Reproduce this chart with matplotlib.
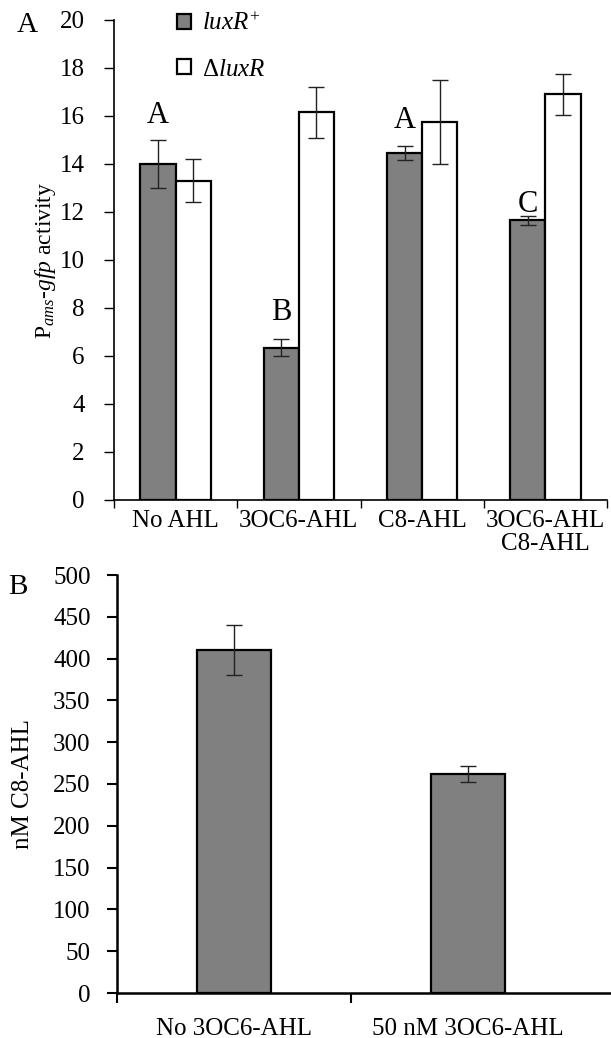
import matplotlib
matplotlib.use("Agg")
import matplotlib.pyplot as plt
import numpy as np

plt.rcParams["font.family"] = ["Liberation Serif", "DejaVu Serif"]
plt.rcParams["mathtext.fontset"] = "custom"
plt.rcParams["mathtext.rm"] = "Liberation Serif"
plt.rcParams["mathtext.it"] = "Liberation Serif:italic"

# Panel A data
conditions_a = ["No AHL", "3OC6-AHL", "C8-AHL", "3OC6-AHL\nC8-AHL"]
luxr_plus = [14.0, 6.35, 14.45, 11.65]
luxr_plus_err = [1.0, 0.35, 0.3, 0.2]
delta_luxr = [13.3, 16.15, 15.75, 16.9]
delta_luxr_err = [0.9, 1.05, 1.75, 0.85]
sig_letters = ["A", "B", "A", "C"]
sig_heights = [15.7, 7.5, 15.5, 12.0]

# Panel B data
conditions_b = ["No 3OC6-AHL", "50 nM 3OC6-AHL"]
c8_nm = [410, 262]
c8_nm_err = [30, 10]

GRAY = "#808080"
FS = 18
W, H = 611, 1038
fig = plt.figure(figsize=(W / 100, H / 100), dpi=100)

# ---- Panel A ----
ax = fig.add_axes([114 / W, 1 - 500 / H, (607 - 114) / W, 480 / H])
x = np.arange(len(conditions_a))
bw = 0.285
ekw = dict(ecolor="#222222", elinewidth=1, capsize=6, capthick=1)
b1 = ax.bar(x - bw / 2, luxr_plus, bw, color=GRAY, edgecolor="black", linewidth=1.6,
            yerr=luxr_plus_err, error_kw=ekw, label=r"$luxR^{+}$", zorder=2)
b2 = ax.bar(x + bw / 2, delta_luxr, bw, color="white", edgecolor="black", linewidth=1.6,
            yerr=delta_luxr_err, error_kw=ekw, label=r"$\mathrm{\Delta}luxR$", zorder=2)
for xi, letter, h in zip(x, sig_letters, sig_heights):
    ax.text(xi - bw / 2, h, letter, ha="center", va="baseline", fontsize=22)

ax.set_xlim(-0.5, len(conditions_a) - 0.5)
ax.set_ylim(0, 20)
ax.set_yticks(np.arange(0, 21, 2))
ax.set_xticks(x)
ax.set_xticklabels(conditions_a, fontsize=FS, linespacing=1.1)
ax.set_xticks(np.arange(-0.5, len(conditions_a)), minor=True)
ax.tick_params(axis="x", which="major", length=0, pad=7)
ax.tick_params(axis="x", which="minor", length=6, width=1, direction="out")
ax.tick_params(axis="y", labelsize=FS, length=7, width=1, pad=14)
for s in ["top", "right"]:
    ax.spines[s].set_visible(False)
ax.spines["left"].set_linewidth(1.2)
ax.spines["bottom"].set_linewidth(1.2)
ax.set_ylabel(r"P$_{ams}$-$gfp$ activity", fontsize=17, labelpad=1)

fig.legend(handles=[b1, b2], loc="upper left", bbox_to_anchor=(177 / W, 1 - 12 / H),
           frameon=False, fontsize=FS, handlelength=0.55, handleheight=0.55,
           handletextpad=0.45, labelspacing=0.95, borderpad=0, borderaxespad=0)

# ---- Panel B ----
axb = fig.add_axes([117 / W, 1 - 993 / H, (611 - 117) / W, (993 - 575) / H])
xb = np.arange(len(conditions_b))
axb.bar(xb, c8_nm, 0.316, color=GRAY, edgecolor="black", linewidth=1.6,
        yerr=c8_nm_err, error_kw=ekw, zorder=2)
axb.set_xlim(-0.5, 1.611)
axb.set_ylim(0, 500)
axb.set_yticks(np.arange(0, 501, 50))
axb.set_xticks(xb)
axb.set_xticklabels(conditions_b, fontsize=FS)
axb.set_xticks([-0.5, 0.5], minor=True)
axb.tick_params(axis="x", which="major", length=0, pad=18)
axb.tick_params(axis="x", which="minor", length=7, width=1.5, direction="out")
axb.tick_params(axis="y", labelsize=FS, length=7, width=1.5, pad=12)
for s in ["top", "right"]:
    axb.spines[s].set_visible(False)
axb.spines["left"].set_linewidth(1.8)
axb.spines["bottom"].set_linewidth(1.8)
axb.set_ylabel("nM C8-AHL", fontsize=FS, labelpad=14)

fig.text(17 / W, 1 - 12 / H, "A", fontsize=21, va="top", ha="left")
fig.text(8 / W, 1 - 574 / H, "B", fontsize=21, va="top", ha="left")

fig.savefig("out.png", dpi=100)
